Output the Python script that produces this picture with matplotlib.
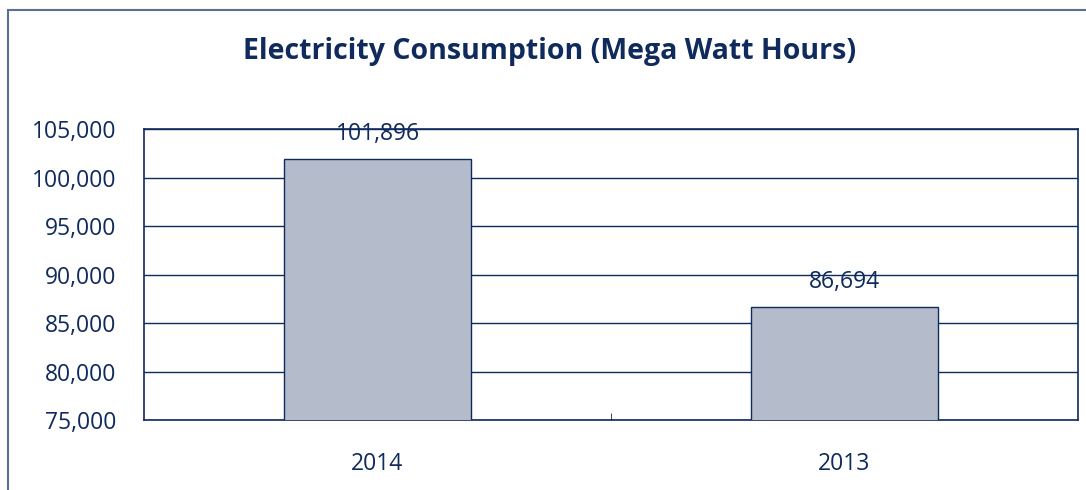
import matplotlib
matplotlib.use("Agg")
import matplotlib.pyplot as plt
from matplotlib.patches import Rectangle
from matplotlib.ticker import FuncFormatter

# data
years = ["2014", "2013"]
consumption = [101896, 86694]
yTicks = [75000, 80000, 85000, 90000, 95000, 100000, 105000]

navy = "#0f2a5c"
barFill = "#b4bccc"

plt.rcParams["font.family"] = ["Open Sans", "DejaVu Sans"]

fig = plt.figure(figsize=(10.86, 4.9), dpi=100)
ax = fig.add_axes([144 / 1086, 1 - 420 / 490, 934 / 1086, 291 / 490])

# outer frame of the chart
fig.patches.append(Rectangle((8 / 1086, -0.1), 1.2, (490 - 10) / 490 + 0.1,
                             transform=fig.transFigure, fill=False,
                             edgecolor="#5a6e96", linewidth=1.5))

xs = range(len(years))
bars = ax.bar(xs, consumption, width=0.4, bottom=0, color=barFill,
              edgecolor=navy, linewidth=1.0, zorder=3)

ax.set_ylim(75000, 105000)
ax.set_xlim(-0.5, 1.5)
ax.set_yticks(yTicks)
ax.yaxis.set_major_formatter(FuncFormatter(lambda v, p: "{:,}".format(int(v))))
ax.grid(axis="y", color=navy, linewidth=1.0, zorder=0)
ax.set_axisbelow(True)

ax.set_xticks(list(xs))
ax.set_xticklabels(years)
ax.set_xticks([0.5], minor=True)
ax.tick_params(axis="x", which="major", length=0, pad=23, labelsize=16.5, colors=navy)
ax.tick_params(axis="x", which="minor", length=5, direction="in", color=navy)
ax.tick_params(axis="y", length=0, pad=20, labelsize=16.5, colors=navy)

for s in ax.spines.values():
    s.set_color(navy)
    s.set_linewidth(1.2)

for x, v in zip(xs, consumption):
    ax.annotate("{:,}".format(v), (x, v), xytext=(0, 18), textcoords="offset points",
                ha="center", va="center", fontsize=16.5, color=navy)

fig.text(550 / 1086, 1 - 51 / 490, "Electricity Consumption (Mega Watt Hours)",
         ha="center", va="center", fontsize=20.5, fontweight="bold", color=navy)

fig.savefig("out.png", dpi=100)
